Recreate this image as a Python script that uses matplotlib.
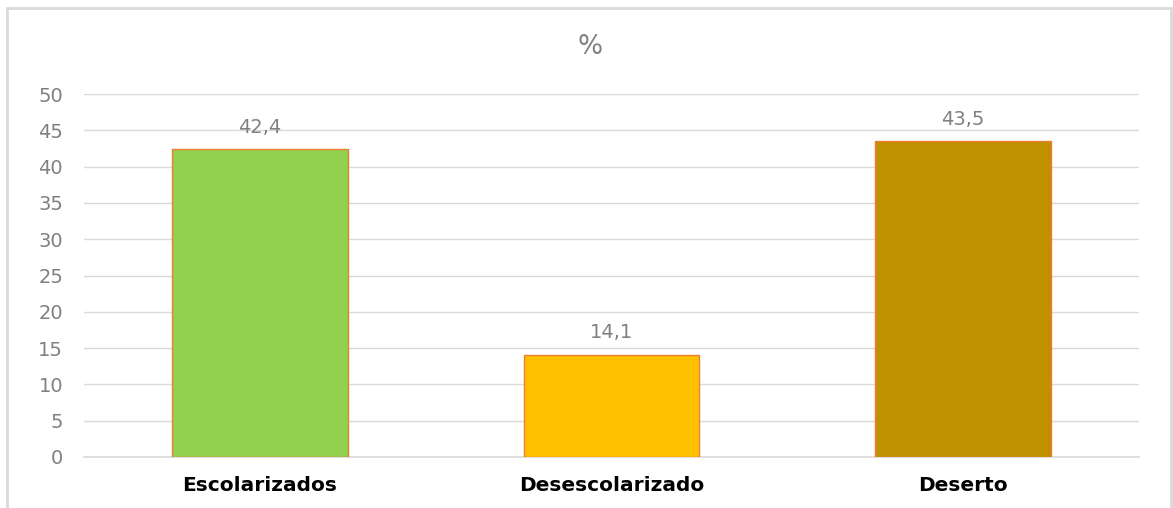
import matplotlib
matplotlib.use("Agg")
import matplotlib.pyplot as plt
from matplotlib.patches import Rectangle

categories = ["Escolarizados", "Desescolarizado", "Deserto"]
values = [42.4, 14.1, 43.5]
labels = ["42,4", "14,1", "43,5"]
colors = ["#92D050", "#FFC000", "#BF9000"]
yticks = [0, 5, 10, 15, 20, 25, 30, 35, 40, 45, 50]

plt.rcParams['font.family'] = ['DejaVu Sans']

fig = plt.figure(figsize=(11.73, 5.08), dpi=100)
ax = fig.add_axes([84/1173, 1 - 457/508, (1139-84)/1173, (457-94)/508])

x = list(range(len(categories)))
bars = ax.bar(x, values, width=0.5, color=colors, edgecolor="#ED7D31", linewidth=1, zorder=3)
for xi, v, lab in zip(x, values, labels):
    ax.annotate(lab, (xi, v), xytext=(0, 9), textcoords="offset points",
                ha="center", va="bottom", fontsize=14, color="#808080")

ax.set_xlim(-0.5, 2.5)
ax.set_ylim(0, 50)
ax.set_yticks(yticks)
ax.set_yticklabels([str(t) for t in yticks], fontsize=14, color="#808080")
ax.set_xticks(x)
ax.set_xticklabels(categories, fontsize=14.5, fontweight="bold", color="#000000")
ax.tick_params(axis="both", length=0)
ax.tick_params(axis="y", pad=15)
ax.tick_params(axis="x", pad=14)
ax.grid(axis="y", color="#D9D9D9", linewidth=1, zorder=0)
ax.axhline(0, color="#D9D9D9", linewidth=1.2, zorder=2, clip_on=False)
for s in ax.spines.values():
    s.set_visible(False)

fig.text(590/1173, 1 - 47/508, "%", ha="center", va="center", fontsize=19, color="#808080")

border = Rectangle((7/1173, -0.05), (1171-7)/1173, 1 - 8/508 + 0.05, transform=fig.transFigure,
                   fill=False, edgecolor="#D9D9D9", linewidth=2)
fig.patches.append(border)

fig.savefig("out.png", dpi=100)
